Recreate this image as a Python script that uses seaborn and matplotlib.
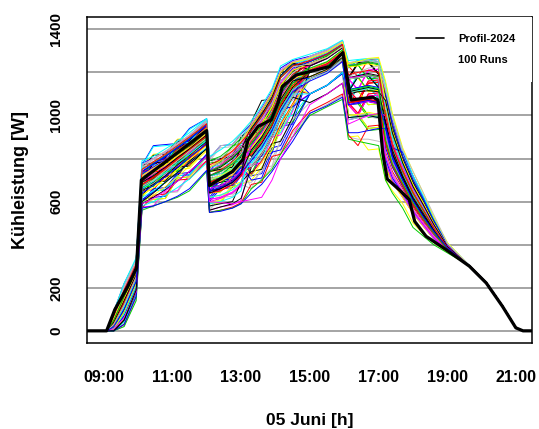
import matplotlib
matplotlib.use("Agg")
import matplotlib.pyplot as plt
from matplotlib.lines import Line2D
import pandas as pd
import seaborn as sns

# Reference cooling-load profile (hour of day, watts)
profile_hours = [8.0, 9.09, 9.33, 9.71, 9.96, 10.1, 12.0, 12.08, 12.75, 13.05, 13.2, 13.5,
                 13.88, 14.07, 14.2, 14.6, 15.57, 15.96, 16.05, 16.2, 16.83, 16.98, 17.12,
                 17.25, 17.6, 17.89, 18.05, 18.38, 18.96, 19.64, 20.13, 20.6, 20.99, 21.2, 22.0]
profile_watts = [0, 0, 99, 207, 292, 700, 930, 675, 740, 795, 885, 950,
                 980, 1057, 1134, 1188, 1227, 1292, 1211, 1072, 1085, 1072, 825,
                 705, 655, 609, 508, 439, 377, 300, 222, 114, 14, 0, 0]

# Simulation runs: shared start/end, individual values at the knot hours
run_hours_head = [8.0, 9.1]
run_watts_head = [0, 0]
run_hours = [9.3, 9.6, 9.95,
             10.12, 10.45, 10.8, 11.15, 11.5, 12.0,
             12.08, 12.4, 12.75, 13.0,
             13.3, 13.6, 13.9, 14.15, 14.5,
             15.0, 15.5, 15.95,
             16.12, 16.4, 16.7, 17.0,
             17.2, 17.4, 17.7, 18.0, 18.3, 18.6,
             19.0]
run_hours_tail = [19.64, 20.13, 20.6, 20.99, 21.2, 22.0]
run_watts_tail = [302, 224, 116, 15, 0, 0]

runs = [
    [60,170,290, 725,730,795,800,875,940, 690,700,710,800, 880,980,985,1110,1120, 1215,1245,1300, 1060,1130,1135,1080, 1010,850,730,630,555,475, 380],
    [20,120,240, 650,710,715,780,785,870, 740,770,815,850, 820,870,950,1040,1125, 1240,1270,1320, 1110,1060,1150,1155, 900,780,680,590,520,455, 378],
    [0,60,200, 600,610,615,710,715,810, 640,645,720,730, 930,940,1060,1070,1180, 1170,1200,1255, 990,995,930,935, 920,860,780,690,600,505, 395],
    [80,200,320, 770,860,865,870,940,985, 600,660,665,720, 720,820,825,950,960, 1210,1240,1295, 1170,1185,1190,1180, 780,700,630,550,490,430, 372],
    [40,150,270, 690,720,750,800,845,910, 790,800,810,900, 960,1030,1110,1200,1245, 1265,1300,1340, 1220,1255,1258,1235, 1030,870,745,640,560,480, 382],
    [0,30,170, 575,580,645,650,725,790, 560,575,585,605, 800,810,930,940,1050, 1100,1140,1200, 1050,1000,1090,1095, 960,820,700,600,530,460, 385],
    [90,210,330, 760,820,825,890,895,975, 700,705,780,790, 870,970,975,1100,1110, 1240,1275,1320, 900,905,840,845, 700,650,590,500,450,410, 365],
    [50,160,280, 700,710,715,810,815,910, 650,710,715,770, 660,705,760,835,920, 1010,1050,1095, 1115,1125,1135,1120, 1000,860,740,640,560,480, 380],
    [10,90,220, 620,710,715,720,790,845, 720,730,740,830, 915,925,1045,1055,1165, 1180,1210,1265, 1175,1245,1250,1195, 880,770,680,590,520,455, 378],
    [70,190,300, 740,770,800,840,880,950, 680,705,735,785, 800,900,905,1030,1040, 1270,1300,1345, 1230,1180,1260,1262, 1100,960,810,700,610,515, 400],
    [30,140,260, 680,685,750,755,830,895, 590,595,670,680, 870,930,1005,1100,1180, 1205,1240,1290, 1050,1055,990,995, 790,700,630,550,490,430, 370],
    [0,50,190, 590,650,655,720,725,810, 740,800,805,860, 720,730,850,860,970, 1100,1140,1195, 980,990,1000,990, 920,790,690,600,525,460, 384],
    [60,180,300, 730,740,745,840,845,940, 790,800,810,900, 920,1020,1025,1150,1160, 1210,1245,1300, 1120,1190,1195,1140, 1050,880,750,650,565,485, 386],
    [20,110,230, 660,750,755,760,830,885, 650,655,680,720, 960,1030,1110,1210,1250, 1240,1270,1320, 1060,1010,1100,1105, 860,770,670,585,515,450, 376],
    [40,160,270, 690,720,730,790,800,900, 690,695,770,780, 800,810,930,940,1050, 1170,1200,1260, 1170,1175,1110,1115, 1020,860,740,640,560,480, 381],
    [0,20,150, 570,575,640,645,720,785, 560,620,625,680, 660,760,765,890,900, 1010,1050,1090, 900,890,890,880, 870,780,680,590,520,455, 390],
    [80,200,310, 755,815,820,885,890,975, 740,750,760,850, 870,935,1005,1105,1180, 1260,1295,1340, 1230,1255,1258,1245, 980,850,730,630,555,475, 380],
    [50,150,260, 700,710,715,810,815,910, 640,650,680,720, 880,890,1010,1020,1130, 1215,1245,1300, 1050,1000,1090,1095, 760,690,620,545,485,428, 370],
    [10,80,210, 640,730,735,740,810,865, 700,705,780,790, 730,830,835,960,970, 1100,1140,1200, 1110,1115,1050,1055, 1040,900,760,660,575,490, 388],
    [90,220,330, 780,800,830,865,905,980, 800,860,865,915, 960,1035,1115,1220,1255, 1275,1305,1345, 1240,1250,1260,1250, 1120,980,830,715,620,520, 405],
    [30,130,250, 670,675,740,745,820,885, 680,690,700,790, 830,840,960,970,1080, 1240,1270,1320, 1110,1180,1185,1130, 940,800,700,605,530,462, 384],
    [60,170,280, 710,770,775,840,845,930, 610,620,640,670, 920,1020,1025,1150,1160, 1210,1240,1295, 1170,1120,1210,1215, 880,770,680,590,520,455, 378],
    [0,40,180, 600,610,615,710,715,810, 590,595,670,680, 700,760,840,930,1030, 1170,1200,1260, 1060,1065,1000,1005, 990,860,740,640,560,480, 382],
    [40,150,270, 690,780,785,790,860,915, 750,810,815,870, 870,880,1000,1010,1120, 1200,1235,1290, 990,995,1000,990, 780,700,630,550,490,430, 372],
    [70,190,300, 740,770,805,845,885,950, 700,710,720,810, 970,1070,1075,1200,1210, 1260,1290,1335, 1175,1245,1250,1195, 1060,900,770,665,580,490, 390],
    [20,100,230, 650,655,720,725,800,865, 660,670,700,740, 800,860,940,1030,1120, 1100,1140,1200, 1110,1060,1150,1155, 920,790,690,600,525,460, 384],
    [50,170,290, 720,780,785,850,855,940, 780,785,860,870, 880,890,1010,1020,1130, 1240,1270,1320, 1230,1235,1170,1175, 1000,860,740,640,560,480, 380],
    [0,70,200, 610,620,625,720,725,820, 620,680,685,740, 910,1010,1015,1140,1150, 1210,1245,1300, 1050,1060,1065,1055, 1040,890,760,655,575,488, 392],
    [80,200,320, 765,855,860,865,935,985, 690,700,710,800, 840,900,975,1070,1160, 1170,1200,1260, 1110,1180,1185,1130, 800,710,640,560,495,435, 372],
    [30,130,250, 680,710,750,795,840,905, 720,745,790,830, 770,780,900,910,1020, 1215,1245,1300, 1170,1120,1210,1215, 960,820,710,610,535,465, 385],
    [60,160,280, 710,715,780,785,860,925, 740,745,820,830, 880,980,985,1110,1120, 1270,1300,1345, 1060,1065,1000,1005, 880,770,680,590,520,455, 378],
    [10,90,210, 630,690,695,760,765,850, 570,630,635,690, 690,740,800,880,980, 1060,1100,1150, 980,990,995,985, 980,840,720,620,545,470, 388],
    [90,210,330, 770,780,785,880,885,975, 790,800,810,900, 940,950,1070,1080,1190, 1240,1275,1325, 1230,1255,1258,1245, 1070,920,790,680,590,500, 395],
    [40,140,260, 690,780,785,790,860,915, 670,690,720,765, 850,950,955,1080,1090, 1205,1240,1290, 1110,1060,1150,1155, 830,740,660,575,505,445, 375],
    [20,110,240, 660,690,730,780,825,885, 710,715,790,800, 900,960,1040,1140,1210, 1170,1205,1260, 1000,1005,940,945, 940,800,700,605,530,462, 384],
    [70,180,300, 740,745,810,815,890,955, 640,700,705,760, 800,810,930,940,1050, 1230,1265,1315, 1170,1180,1190,1180, 1020,870,750,645,565,482, 386],
    [0,50,180, 590,650,655,720,725,810, 660,670,680,770, 760,860,865,990,1000, 1100,1140,1200, 1060,1130,1135,1080, 900,780,680,590,520,455, 380],
    [50,160,280, 710,720,725,820,825,920, 760,790,830,870, 950,1020,1100,1200,1245, 1250,1285,1330, 1120,1070,1160,1165, 1080,930,790,680,595,500, 394],
    [30,120,250, 670,760,765,770,840,895, 600,605,680,690, 870,880,1000,1010,1120, 1180,1210,1270, 1170,1175,1110,1115, 760,690,620,545,485,428, 370],
    [80,200,310, 750,785,820,855,895,960, 700,760,765,820, 830,930,935,1060,1070, 1210,1245,1300, 1050,1060,1070,1060, 950,810,700,605,530,462, 382],
    [40,150,270, 700,705,770,775,850,915, 680,690,700,790, 900,960,1040,1135,1205, 1240,1270,1320, 1110,1180,1185,1130, 1000,860,740,640,560,478, 381],
    [0,30,160, 570,630,635,700,705,790, 550,560,575,595, 680,690,810,820,930, 1020,1060,1100, 910,860,950,955, 860,770,680,590,520,455, 392],
    [60,180,290, 730,740,745,840,845,940, 780,785,860,870, 860,960,965,1090,1100, 1200,1235,1290, 1230,1235,1170,1175, 1100,950,810,700,610,512, 398],
    [20,100,230, 650,740,745,750,820,875, 640,700,705,760, 940,1005,1085,1185,1235, 1260,1290,1335, 1060,1065,1070,1060, 920,790,690,600,525,460, 384],
    [70,190,310, 750,780,815,855,895,960, 720,730,740,830, 780,790,910,920,1030, 1170,1200,1260, 1110,1180,1185,1130, 790,700,630,550,490,430, 372],
    [50,160,280, 710,715,780,785,860,925, 600,615,640,675, 880,980,985,1110,1120, 1210,1245,1300, 1170,1120,1210,1215, 1040,890,760,655,575,488, 390],
    [10,80,200, 620,680,685,750,755,840, 690,695,770,780, 820,880,955,1050,1140, 1100,1140,1200, 1000,1005,940,945, 940,800,700,605,530,462, 384],
    [90,220,330, 775,785,790,885,890,982, 800,860,865,918, 970,980,1100,1110,1220, 1275,1305,1348, 1245,1255,1260,1250, 1130,990,830,715,620,520, 402],
    [40,140,260, 690,780,785,790,860,915, 740,750,760,850, 850,950,955,1080,1090, 1230,1265,1315, 1110,1180,1185,1130, 870,770,675,585,515,452, 378],
    [30,130,250, 670,700,700,760,770,880, 650,660,690,725, 730,790,870,960,1055, 1170,1200,1255, 1060,1010,1100,1105, 1020,870,745,645,565,482, 386],
    [60,170,290, 720,725,790,795,870,935, 700,705,780,790, 910,920,1040,1050,1160, 1210,1245,1300, 1175,1180,1115,1120, 960,820,710,610,535,465, 385],
    [0,60,190, 600,660,665,730,735,820, 610,670,675,730, 800,900,905,1030,1040, 1100,1140,1200, 1110,1115,1125,1120, 1060,900,770,660,575,490, 394],
    [80,200,320, 760,770,775,870,875,970, 760,770,780,870, 940,1005,1085,1185,1240, 1260,1290,1335, 1230,1255,1258,1245, 900,780,690,595,525,458, 380],
    [20,110,240, 660,750,755,760,830,885, 680,695,725,775, 860,870,990,1000,1110, 1200,1235,1290, 1050,1000,1090,1095, 820,730,650,565,500,440, 374],
    [50,160,280, 700,735,775,815,855,920, 640,645,720,730, 880,980,985,1110,1120, 1240,1270,1320, 1110,1115,1050,1055, 1040,880,750,650,570,485, 388],
    [40,150,260, 690,695,760,765,840,905, 790,850,855,910, 770,830,910,1000,1095, 1170,1205,1260, 1000,1005,1010,1000, 980,840,720,620,545,470, 386],
    [10,90,220, 630,690,695,760,765,850, 580,590,600,690, 740,750,870,880,990, 1210,1240,1295, 1170,1240,1245,1190, 1090,940,800,690,600,505, 396],
    [70,190,300, 740,750,755,850,855,950, 720,745,785,825, 920,1020,1025,1150,1160, 1240,1270,1320, 1120,1070,1160,1165, 880,770,680,590,520,455, 379],
    [30,120,250, 670,760,765,770,840,895, 670,675,750,760, 830,890,965,1060,1150, 1200,1230,1285, 1060,1065,1000,1005, 930,800,695,602,528,460, 383],
    [60,180,290, 730,760,795,835,875,940, 650,710,715,770, 700,710,830,840,950, 1100,1140,1195, 1170,1175,1185,1175, 800,710,640,560,495,435, 372],
    [0,40,170, 580,600,630,665,705,780, 700,715,745,790, 880,940,1015,1110,1190, 1170,1200,1260, 990,995,1000,990, 950,810,700,605,530,462, 388],
    [90,210,320, 770,800,830,868,908,975, 740,770,810,850, 960,1030,1110,1210,1250, 1270,1300,1345, 1230,1240,1250,1240, 1000,860,740,640,560,478, 382],
    [40,150,270, 700,730,770,810,850,915, 620,630,655,690, 850,910,985,1080,1165, 1215,1245,1300, 1110,1120,1130,1120, 860,760,670,585,515,450, 377],
    [20,110,230, 650,685,725,770,815,880, 690,710,740,790, 900,960,1040,1140,1210, 1240,1270,1320, 1050,1060,1070,1060, 1030,880,750,650,570,485, 388],
    [50,170,280, 710,710,780,785,850,930, 760,780,820,860, 810,870,950,1040,1130, 1205,1240,1295, 1175,1185,1195,1185, 900,780,685,595,522,456, 380],
    [30,130,250, 680,715,755,800,840,905, 650,665,695,735, 760,820,900,990,1090, 1170,1205,1260, 1110,1115,1125,1115, 970,830,710,615,540,468, 386],
    [70,190,310, 750,780,815,855,895,960, 690,710,740,790, 930,995,1075,1175,1230, 1250,1280,1325, 1225,1235,1245,1235, 1060,910,780,670,585,495, 392],
    [10,70,200, 610,645,690,735,780,850, 720,740,780,820, 870,930,1005,1100,1180, 1100,1140,1200, 1060,1065,1075,1065, 850,760,670,585,515,450, 376],
    [60,170,290, 720,750,790,830,870,935, 590,600,620,650, 880,940,1015,1110,1190, 1210,1240,1295, 1120,1125,1135,1125, 990,850,730,630,555,475, 382],
    [40,140,260, 690,730,765,810,850,915, 740,765,805,845, 840,900,975,1070,1160, 1240,1270,1320, 1170,1180,1190,1180, 920,790,690,600,525,460, 384],
    [0,60,190, 600,630,670,715,765,835, 680,695,725,770, 720,780,860,950,1050, 1170,1200,1260, 1000,1005,1015,1005, 1080,930,790,680,595,502, 395],
    [80,200,320, 760,795,830,865,905,972, 700,720,755,800, 880,945,1020,1115,1195, 1265,1295,1340, 1115,1120,1130,1120, 820,730,650,565,500,440, 374],
    [20,100,230, 650,680,720,770,815,880, 740,760,800,840, 950,1020,1100,1200,1245, 1210,1245,1300, 1170,1175,1185,1175, 960,820,710,610,535,465, 385],
    [50,160,280, 710,740,740,800,805,910, 640,650,680,720, 800,860,940,1035,1120, 1200,1235,1290, 1060,1070,1075,1065, 1020,870,745,645,565,482, 386],
    [30,130,250, 670,705,745,790,835,900, 790,810,855,895, 900,960,1040,1140,1210, 1240,1275,1320, 1230,1240,1250,1240, 890,775,685,595,522,456, 380],
    [70,190,300, 740,775,810,850,890,955, 660,675,705,745, 860,920,995,1090,1175, 1170,1205,1260, 1050,1055,1065,1055, 1100,960,810,700,610,515, 400],
    [10,80,210, 620,650,690,735,780,850, 700,720,755,800, 780,840,920,1010,1100, 1100,1140,1200, 1110,1120,1130,1120, 940,800,700,605,530,462, 384],
    [60,170,290, 720,755,790,830,870,935, 610,620,645,680, 910,975,1055,1150,1215, 1230,1265,1315, 1175,1180,1190,1180, 780,700,630,550,490,430, 371],
    [40,150,270, 700,735,770,810,850,915, 720,740,780,820, 850,910,985,1080,1165, 1210,1245,1300, 1110,1115,1125,1115, 1010,860,740,640,560,478, 383],
    [90,210,330, 770,800,835,870,910,978, 780,805,845,885, 960,1030,1110,1210,1250, 1270,1300,1345, 1240,1250,1255,1245, 1050,900,770,665,580,490, 390],
    [0,50,180, 590,620,655,695,740,810, 560,575,590,615, 760,820,900,990,1085, 1060,1100,1150, 990,995,1000,990, 980,840,720,620,545,470, 388],
    [50,160,280, 710,745,780,820,860,925, 690,705,740,785, 880,940,1015,1110,1190, 1240,1270,1320, 1060,1065,1075,1065, 870,770,675,585,515,452, 378],
    [30,120,250, 670,670,740,745,820,890, 740,765,805,845, 830,890,965,1060,1150, 1200,1230,1285, 1170,1175,1190,1180, 1000,860,740,640,560,478, 384],
    [70,180,300, 740,775,810,850,890,955, 720,740,775,815, 920,985,1065,1160,1220, 1250,1285,1330, 1120,1130,1140,1130, 940,800,700,605,530,462, 382],
    [20,110,240, 660,695,735,780,820,885, 620,630,655,690, 800,860,940,1030,1120, 1170,1200,1260, 1110,1115,1125,1120, 1060,900,770,660,575,490, 392],
    [60,170,290, 720,750,790,830,870,935, 660,675,705,745, 860,920,995,1090,1175, 1210,1240,1295, 1050,1060,1065,1055, 810,720,645,560,497,437, 373],
    [10,90,220, 630,665,705,750,795,860, 700,720,750,795, 900,960,1040,1140,1210, 1240,1270,1320, 1225,1230,1240,1230, 1070,920,785,675,590,498, 394],
    [80,200,310, 750,785,820,860,900,965, 760,780,820,860, 760,820,900,990,1090, 1170,1200,1260, 1170,1175,1185,1175, 900,780,685,595,522,456, 380],
    [40,140,260, 690,720,760,805,845,910, 650,660,690,730, 940,1005,1085,1185,1240, 1230,1265,1315, 1110,1120,1130,1120, 960,820,710,610,535,465, 385],
    [30,130,250, 680,710,750,795,840,905, 690,710,740,790, 820,880,955,1050,1140, 1210,1240,1295, 1060,1065,1070,1060, 880,770,680,590,520,455, 378],
    [0,20,140, 560,580,600,620,650,740, 550,560,570,590, 660,700,750,820,900, 1000,1040,1075, 890,880,870,860, 700,640,570,480,440,400, 362],
    [0,30,160, 570,580,600,625,660,745, 550,555,570,590, 640,680,740,800,880, 1010,1045,1085, 920,920,930,940, 940,850,830,720,620,520, 405],
    [90,220,340, 790,810,845,880,920,985, 810,840,880,920, 975,1045,1125,1230,1260, 1285,1310,1350, 1255,1260,1265,1260, 1150,1000,840,720,625,525, 408],
    [10,60,180, 590,615,650,695,740,810, 600,595,590,600, 610,620,700,800,900, 1050,1100,1150, 960,980,1000,1010, 1000,860,760,660,580,490, 395],
    [60,170,290, 720,755,790,835,875,940, 760,790,835,875, 950,1020,1100,1200,1245, 1265,1295,1340, 1240,1250,1265,1270, 1160,1010,850,740,640,530, 410],
    [30,120,250, 670,700,745,790,835,895, 700,730,775,820, 920,985,1060,1160,1225, 1240,1270,1320, 1180,1200,1220,1230, 1120,990,840,740,640,540, 405],
    [0,50,190, 600,640,690,735,780,845, 640,660,690,735, 840,900,980,1075,1160, 1180,1215,1270, 1100,1110,1115,1110, 1070,920,780,670,585,495, 392],
    [70,190,310, 750,785,820,860,900,962, 770,795,835,875, 930,995,1075,1175,1230, 1255,1285,1330, 1190,1200,1210,1200, 1000,860,740,640,560,478, 386],
    [50,160,280, 710,745,780,820,860,925, 720,740,775,815, 870,930,1005,1100,1180, 1220,1250,1305, 1120,1125,1135,1125, 890,775,685,595,522,456, 379],
    [20,100,230, 640,675,715,760,805,870, 650,665,695,735, 790,850,930,1020,1110, 1160,1195,1250, 1050,1060,1070,1060, 950,810,700,605,530,462, 385],
]

run_colors = ["black", "red", "#00CD00", "blue", "cyan", "magenta", "yellow", "#BEBEBE"]

y_ticks = [0, 200, 400, 600, 800, 1000, 1200, 1400]
y_tick_labels = ["0", "200", "", "600", "", "1000", "", "1400"]
x_ticks = [9, 10, 11, 12, 13, 14, 15, 16, 17, 18, 19, 20, 21]
x_tick_labels = ["09:00", "", "11:00", "", "13:00", "", "15:00", "", "17:00", "",
                 "19:00", "", "21:00"]

sns.set_style("white")
plt.rcParams["font.family"] = ["Liberation Sans", "DejaVu Sans"]
plt.rcParams["font.weight"] = "bold"
plt.rcParams["text.color"] = "black"
plt.rcParams["axes.labelcolor"] = "black"
plt.rcParams["xtick.color"] = "black"
plt.rcParams["ytick.color"] = "black"

# long table of all runs
records = []
for i, watts in enumerate(runs):
    hours = run_hours_head + run_hours + run_hours_tail
    values = run_watts_head + watts + run_watts_tail
    for h, v in zip(hours, values):
        records.append((i, h, v))
df = pd.DataFrame(records, columns=["run", "hour", "watt"])
palette = {i: run_colors[i % len(run_colors)] for i in range(len(runs))}

fig = plt.figure(figsize=(5.39, 4.29), dpi=100)
ax = fig.add_axes([0.1614, 0.2012, 0.8256, 0.7585])

ax.set_yticks(y_ticks)
ax.grid(axis="y", color="#8c8c8c", lw=1.1, zorder=0)
ax.set_axisbelow(True)

sns.lineplot(data=df, x="hour", y="watt", hue="run", units="run", estimator=None,
             palette=palette, lw=0.7, legend=False, sort=False, ax=ax)
sns.lineplot(x=profile_hours, y=profile_watts, color="black", lw=2.3,
             estimator=None, sort=False, ax=ax)

ax.set_xlim(8.52, 21.46)
ax.set_ylim(-55, 1456)

ax.set_xticks(x_ticks)
ax.set_xticklabels(x_tick_labels, fontsize=11.5, fontweight="bold")
ax.set_yticklabels(y_tick_labels, fontsize=11, fontweight="bold", rotation=90, va="center")
ax.tick_params(axis="x", length=7.5, width=0.9, color="#444444", labelcolor="black",
               pad=12, direction="out")
ax.tick_params(axis="y", length=0, pad=17, labelcolor="black")

for sp in ax.spines.values():
    sp.set_color("black")
    sp.set_linewidth(1.1)

ax.set_xlabel("05 Juni [h]", fontsize=12.5, fontweight="bold", labelpad=20, color="black")
ax.set_ylabel("Kühleistung [W]", fontsize=13, fontweight="bold", labelpad=15, color="black")

handles = [Line2D([], [], color="black", lw=1.2), Line2D([], [], color="none")]
leg = ax.legend(handles, ["Profil-2024", "100 Runs"], loc="upper right",
                bbox_to_anchor=(1.0, 1.0), borderaxespad=0, frameon=True,
                facecolor="white", edgecolor="white", framealpha=1,
                fancybox=False, prop={"size": 8, "weight": "bold"},
                handlelength=2.5, handletextpad=1.25, borderpad=1.5,
                labelspacing=1.0)
leg.get_frame().set_linewidth(0)
for t in leg.get_texts():
    t.set_color("black")

fig.savefig("out.png", dpi=100)
